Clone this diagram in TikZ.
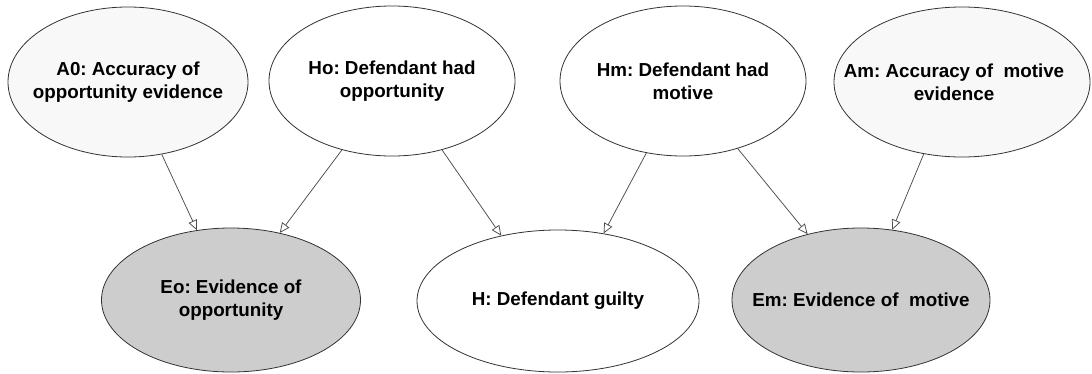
\documentclass[tikz,border=0pt]{standalone}
\usepackage{fontspec}
\setmainfont{Liberation Sans}
\usetikzlibrary{shapes.geometric,arrows.meta}
\definecolor{evfill}{HTML}{CDCDCD}
\definecolor{acfill}{HTML}{F8F8F8}
\definecolor{edge}{HTML}{333333}
\frenchspacing
\begin{document}
\begin{tikzpicture}[x=1pt,y=-1pt,
  vnode/.style={ellipse,draw=edge,line width=0.8pt,inner sep=0pt},
  vtext/.style={align=center,inner sep=0pt,
    font=\fontsize{18.8}{23}\selectfont\bfseries\frenchspacing,text=black},
  link/.style={draw=black!70,line width=0.75pt,-{Triangle[open,fill=white,length=10pt,width=9pt]}}]
\useasboundingbox (0,0) rectangle (1092,373);
\node[vnode,fill=acfill,minimum width=240pt,minimum height=150pt,
  label={[vtext]center:A0: Accuracy of\\opportunity evidence}] (A0) at (128,82) {};
\node[vnode,fill=white,minimum width=246pt,minimum height=150pt,
  label={[vtext]center:Ho: Defendant had\\opportunity}] (Ho) at (392,81) {};
\node[vnode,fill=white,minimum width=246pt,minimum height=150pt,
  label={[vtext]center:Hm: Defendant had\\motive}] (Hm) at (683,81) {};
\node[vnode,fill=acfill,minimum width=256pt,minimum height=150pt,
  label={[vtext,xshift=-8pt]center:Am: Accuracy of\ \ motive\\evidence}] (Am) at (962,82) {};
\node[vnode,fill=evfill,minimum width=259pt,minimum height=144pt,
  label={[vtext]center:Eo: Evidence of\\opportunity}] (Eo) at (231,300) {};
\node[vnode,fill=white,minimum width=282pt,minimum height=142pt,
  label={[vtext]center:H: Defendant guilty}] (H) at (558,301) {};
\node[vnode,fill=evfill,minimum width=258pt,minimum height=144pt,
  label={[vtext]center:Em: Evidence of\ \ motive}] (Em) at (861,300) {};
\draw[link] (A0.-65) -- (Eo.116);
\draw[link] (Ho.-126) -- (Eo.54);
\draw[link] (Ho.-54.5) -- (H.131);
\draw[link] (Hm.-117) -- (H.56.5);
\draw[link] (Hm.-51) -- (Em.129);
\draw[link] (Am.-118.7) -- (Em.66.8);
\end{tikzpicture}
\end{document}
